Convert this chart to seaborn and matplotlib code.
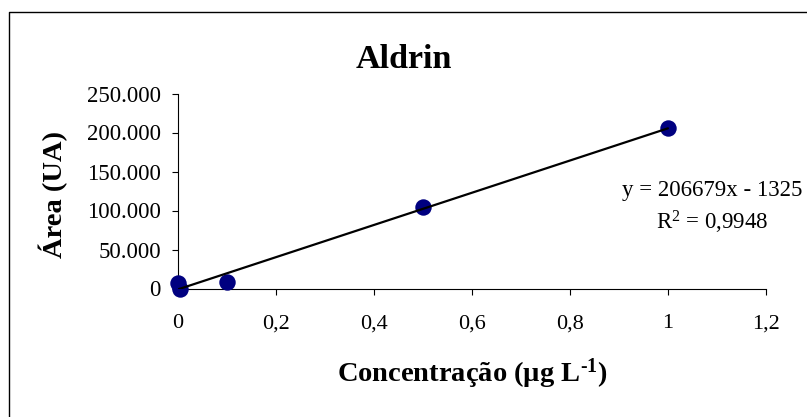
import matplotlib
matplotlib.use("Agg")
import matplotlib.pyplot as plt
import seaborn as sns
import pandas as pd
from matplotlib.lines import Line2D

# Calibration data for Aldrin
concentracao = [0.002, 0.006, 0.1, 0.5, 1.0]
area = [6800, 0, 8000, 104900, 205500]

# Linear fit reported on the chart
slope = 206679
intercept = -1325
r2 = 0.9948

xticks = [0, 0.2, 0.4, 0.6, 0.8, 1.0, 1.2]
xtick_labels = ["0", "0,2", "0,4", "0,6", "0,8", "1", "1,2"]
yticks = [0, 50000, 100000, 150000, 200000, 250000]
ytick_labels = ["0", "50.000", "100.000", "150.000", "200.000", "250.000"]

sns.set_style("ticks")
plt.rcParams["font.family"] = ["Liberation Serif", "DejaVu Serif"]
plt.rcParams["mathtext.fontset"] = "custom"
plt.rcParams["mathtext.rm"] = "Liberation Serif"
plt.rcParams["mathtext.it"] = "Liberation Serif:italic"
plt.rcParams["mathtext.bf"] = "Liberation Serif:bold"
plt.rcParams["text.color"] = "black"
plt.rcParams["axes.labelcolor"] = "black"

W, H = 807, 417
fig = plt.figure(figsize=(W / 100, H / 100), dpi=100)
fig.patch.set_facecolor("white")

left, right, bottom, top = 177.5, 766, 288.5, 93.5
ax = fig.add_axes([left / W, 1 - bottom / H, (right - left) / W, (bottom - top) / H])
ax.set_facecolor("white")

pts = pd.DataFrame({"conc": concentracao, "area": area})
sns.scatterplot(data=pts, x="conc", y="area", ax=ax, s=140, color="#000080",
                edgecolor="#000080", linewidth=0, clip_on=False, zorder=3,
                legend=False)

fit = pd.DataFrame({"conc": [min(concentracao), max(concentracao)]})
fit["area"] = slope * fit["conc"] + intercept
sns.lineplot(data=fit, x="conc", y="area", ax=ax, color="black",
             linewidth=1.6, zorder=4)

ax.set_xlim(0, 1.2)
ax.set_ylim(0, 250000)
ax.set_xticks(xticks)
ax.set_xticklabels(xtick_labels)
ax.set_yticks(yticks)
ax.set_yticklabels(ytick_labels)
ax.set_xlabel("")
ax.set_ylabel("")

for side in ("top", "right"):
    ax.spines[side].set_visible(False)
for side in ("left", "bottom"):
    ax.spines[side].set_color("black")
    ax.spines[side].set_linewidth(0.8)

ax.tick_params(axis="x", direction="out", length=4.5, width=0.8,
               colors="black", labelsize=16, pad=14)
ax.tick_params(axis="y", direction="out", length=4, width=0.8,
               colors="black", labelsize=16.5, pad=8)

# Titles and axis labels
fig.text(0.5, 1 - 68.3 / H, "Aldrin", ha="center", va="baseline",
         fontsize=24.5, fontweight="bold", color="black")
fig.text(472 / W, 1 - 382 / H, r"Concentração (µg L$^{\text{-}\mathbf{1}}$)",
         ha="center", va="baseline", fontsize=20.5, fontweight="bold",
         color="black")
fig.text(53 / W, 1 - 194 / H, "Área (UA)", ha="center", va="center",
         rotation=90, fontsize=20.5, fontweight="bold", color="black")

# Trendline equation
sign = "-" if intercept < 0 else "+"
eq_text = f"y = {slope}x {sign} {abs(intercept)}"
r2_text = r"R$^{2}$ = " + f"{r2:.4f}".replace(".", ",")
fig.text(712 / W, 1 - 195.7 / H, eq_text, ha="center", va="baseline",
         fontsize=16.5, color="black")
fig.text(712 / W, 1 - 230 / H, r2_text, ha="center", va="baseline",
         fontsize=16.5, color="black")

# Chart area frame
fx = 8.5 / W
fy = 1 - 12.3 / H
fig.add_artist(Line2D([fx, fx, 1.0], [0.0, fy, fy], transform=fig.transFigure,
                      color="black", linewidth=1.0))

fig.savefig("out.png", dpi=100)
